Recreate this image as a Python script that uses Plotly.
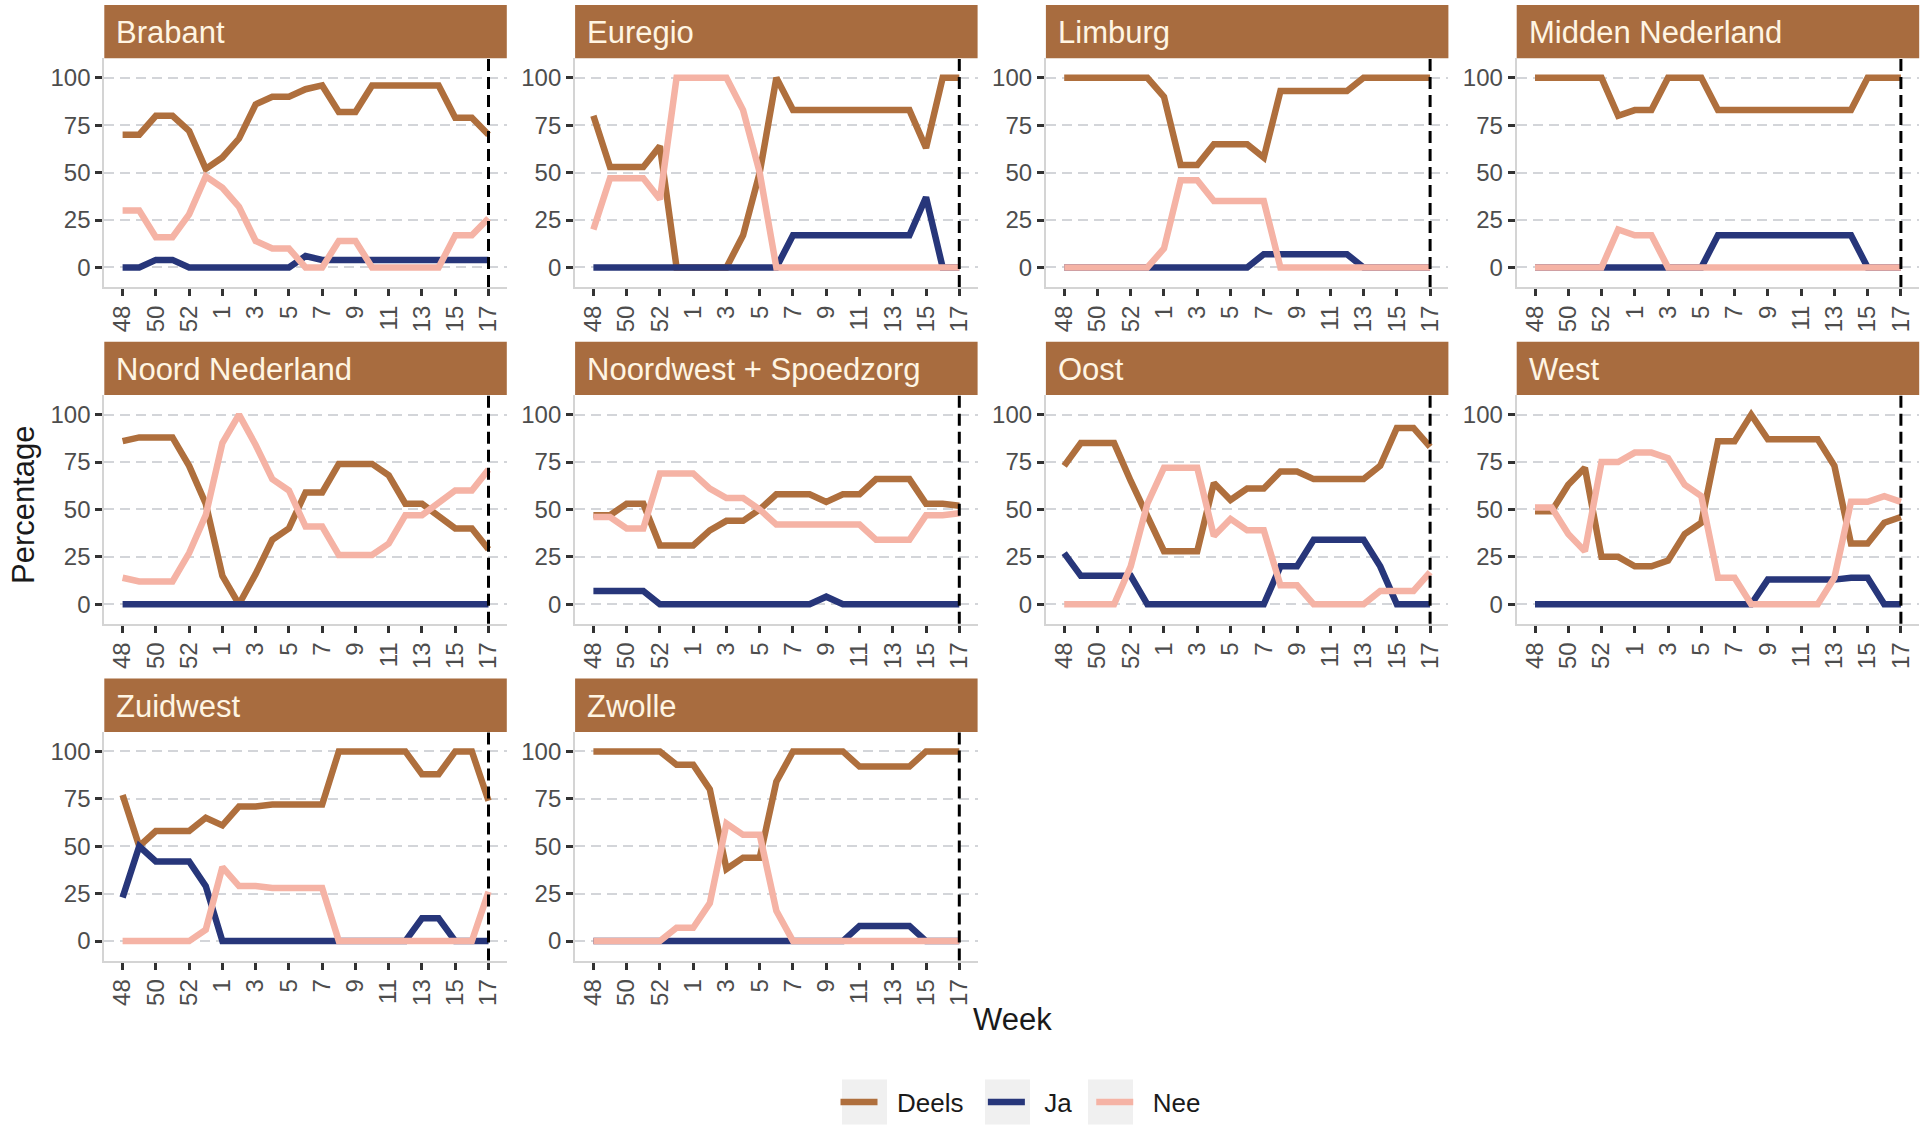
import plotly.graph_objects as go

# Week axis: weeks 48-53 of 2020 followed by weeks 1-17 of 2021
weeks = ["48", "49", "50", "51", "52", "53"] + [str(w) for w in range(1, 18)]
week_ticks = weeks[::2]
marker_week = "17"

regions = [
    "Brabant", "Euregio", "Limburg", "Midden Nederland",
    "Noord Nederland", "Noordwest + Spoedzorg", "Oost", "West",
    "Zuidwest", "Zwolle",
]
series_names = ["Deels", "Ja", "Nee"]
series_colors = ["#AF6F3D", "#27367A", "#F5B3A5"]

brabant_deels = [70, 70, 80, 80, 72, 52, 58, 68, 86, 90, 90, 94, 96, 82, 82, 96, 96, 96, 96, 96, 79, 79, 70]
brabant_ja = [0, 0, 4, 4, 0, 0, 0, 0, 0, 0, 0, 6, 4, 4, 4, 4, 4, 4, 4, 4, 4, 4, 4]
brabant_nee = [30, 30, 16, 16, 28, 48, 42, 32, 14, 10, 10, 0, 0, 14, 14, 0, 0, 0, 0, 0, 17, 17, 26]

euregio_deels = [80, 53, 53, 53, 64, 0, 0, 0, 0, 17, 50, 100, 83, 83, 83, 83, 83, 83, 83, 83, 63, 100, 100]
euregio_ja = [0, 0, 0, 0, 0, 0, 0, 0, 0, 0, 0, 0, 17, 17, 17, 17, 17, 17, 17, 17, 37, 0, 0]
euregio_nee = [20, 47, 47, 47, 36, 100, 100, 100, 100, 83, 50, 0, 0, 0, 0, 0, 0, 0, 0, 0, 0, 0, 0]

limburg_deels = [100, 100, 100, 100, 100, 100, 90, 54, 54, 65, 65, 65, 58, 93, 93, 93, 93, 93, 100, 100, 100, 100, 100]
limburg_ja = [0, 0, 0, 0, 0, 0, 0, 0, 0, 0, 0, 0, 7, 7, 7, 7, 7, 7, 0, 0, 0, 0, 0]
limburg_nee = [0, 0, 0, 0, 0, 0, 10, 46, 46, 35, 35, 35, 35, 0, 0, 0, 0, 0, 0, 0, 0, 0, 0]

midden_deels = [100, 100, 100, 100, 100, 80, 83, 83, 100, 100, 100, 83, 83, 83, 83, 83, 83, 83, 83, 83, 100, 100, 100]
midden_ja = [0, 0, 0, 0, 0, 0, 0, 0, 0, 0, 0, 17, 17, 17, 17, 17, 17, 17, 17, 17, 0, 0, 0]
midden_nee = [0, 0, 0, 0, 0, 20, 17, 17, 0, 0, 0, 0, 0, 0, 0, 0, 0, 0, 0, 0, 0, 0, 0]

noord_deels = [86, 88, 88, 88, 73, 53, 15, 0, 16, 34, 40, 59, 59, 74, 74, 74, 68, 53, 53, 46, 40, 40, 29]
noord_ja = [0, 0, 0, 0, 0, 0, 0, 0, 0, 0, 0, 0, 0, 0, 0, 0, 0, 0, 0, 0, 0, 0, 0]
noord_nee = [14, 12, 12, 12, 27, 47, 85, 100, 84, 66, 60, 41, 41, 26, 26, 26, 32, 47, 47, 54, 60, 60, 71]

noordwest_deels = [47, 47, 53, 53, 31, 31, 31, 39, 44, 44, 50, 58, 58, 58, 54, 58, 58, 66, 66, 66, 53, 53, 52]
noordwest_ja = [7, 7, 7, 7, 0, 0, 0, 0, 0, 0, 0, 0, 0, 0, 4, 0, 0, 0, 0, 0, 0, 0, 0]
noordwest_nee = [46, 46, 40, 40, 69, 69, 69, 61, 56, 56, 50, 42, 42, 42, 42, 42, 42, 34, 34, 34, 47, 47, 48]

oost_deels = [73, 85, 85, 85, 65, 47, 28, 28, 28, 64, 55, 61, 61, 70, 70, 66, 66, 66, 66, 73, 93, 93, 83]
oost_ja = [27, 15, 15, 15, 15, 0, 0, 0, 0, 0, 0, 0, 0, 20, 20, 34, 34, 34, 34, 20, 0, 0, 0]
oost_nee = [0, 0, 0, 0, 20, 53, 72, 72, 72, 36, 45, 39, 39, 10, 10, 0, 0, 0, 0, 7, 7, 7, 17]

west_deels = [49, 49, 63, 72, 25, 25, 20, 20, 23, 37, 43, 86, 86, 100, 87, 87, 87, 87, 73, 32, 32, 43, 46]
west_ja = [0, 0, 0, 0, 0, 0, 0, 0, 0, 0, 0, 0, 0, 0, 13, 13, 13, 13, 13, 14, 14, 0, 0]
west_nee = [51, 51, 37, 28, 75, 75, 80, 80, 77, 63, 57, 14, 14, 0, 0, 0, 0, 0, 14, 54, 54, 57, 54]

zuidwest_deels = [77, 50, 58, 58, 58, 65, 61, 71, 71, 72, 72, 72, 72, 100, 100, 100, 100, 100, 88, 88, 100, 100, 74]
zuidwest_ja = [23, 50, 42, 42, 42, 29, 0, 0, 0, 0, 0, 0, 0, 0, 0, 0, 0, 0, 12, 12, 0, 0, 0]
zuidwest_nee = [0, 0, 0, 0, 0, 6, 39, 29, 29, 28, 28, 28, 28, 0, 0, 0, 0, 0, 0, 0, 0, 0, 26]

zwolle_deels = [100, 100, 100, 100, 100, 93, 93, 80, 38, 44, 44, 84, 100, 100, 100, 100, 92, 92, 92, 92, 100, 100, 100]
zwolle_ja = [0, 0, 0, 0, 0, 0, 0, 0, 0, 0, 0, 0, 0, 0, 0, 0, 8, 8, 8, 8, 0, 0, 0]
zwolle_nee = [0, 0, 0, 0, 0, 7, 7, 20, 62, 56, 56, 16, 0, 0, 0, 0, 0, 0, 0, 0, 0, 0, 0]

panel_series = [
    (brabant_deels, brabant_ja, brabant_nee),
    (euregio_deels, euregio_ja, euregio_nee),
    (limburg_deels, limburg_ja, limburg_nee),
    (midden_deels, midden_ja, midden_nee),
    (noord_deels, noord_ja, noord_nee),
    (noordwest_deels, noordwest_ja, noordwest_nee),
    (oost_deels, oost_ja, oost_nee),
    (west_deels, west_ja, west_nee),
    (zuidwest_deels, zuidwest_ja, zuidwest_nee),
    (zwolle_deels, zwolle_ja, zwolle_nee),
]

# Page geometry (pixels)
W, H = 1927, 1126
N_COLS = 4
col_left = [104.3, 575.1, 1045.9, 1516.7]
panel_w = 402.5
row_top = [5.0, 341.8, 678.6]
strip_h = 53.3
plot_h = 228.7

STRIP_FILL = "#A86C3F"
STRIP_TEXT = "#FFF5E3"
TICK_TEXT = "#4D4D4D"
GRID = "#D3D5D9"
AXIS_LINE = "#D4D4D4"
KEY_FILL = "#F0F0F0"
FONT = "Liberation Sans, Arial, sans-serif"
NBSP = "\u00a0"

fig = go.Figure()
shapes = []
annotations = []
layout_axes = {}

for k, (region, series) in enumerate(zip(regions, panel_series)):
    r, c = divmod(k, N_COLS)
    n = k + 1
    xname = "x" if n == 1 else f"x{n}"
    yname = "y" if n == 1 else f"y{n}"
    left = col_left[c]
    top = row_top[r]
    plot_top = top + strip_h
    plot_bottom = plot_top + plot_h

    for name, color, values in zip(series_names, series_colors, series):
        fig.add_trace(go.Scatter(
            x=weeks, y=values, mode="lines",
            name=NBSP * 2 + name + NBSP * 2,
            line=dict(color=color, width=6.5),
            legendgroup=name, showlegend=(k == 0),
            xaxis=xname, yaxis=yname, hoverinfo="skip",
        ))

    layout_axes["xaxis" if n == 1 else f"xaxis{n}"] = dict(
        domain=[left / W, (left + panel_w) / W],
        anchor=yname, type="category", categoryorder="array",
        categoryarray=weeks, range=[-1.1, len(weeks) - 1 + 1.1],
        tickmode="array", tickvals=week_ticks, ticktext=week_ticks,
        tickangle=-90, ticks="outside", ticklen=7, tickwidth=2.5,
        tickcolor="#333333", tickfont=dict(size=24, color=TICK_TEXT, family=FONT),
        showgrid=False, zeroline=False, showline=True,
        linecolor=AXIS_LINE, linewidth=2, fixedrange=True,
    )
    layout_axes["yaxis" if n == 1 else f"yaxis{n}"] = dict(
        domain=[1 - plot_bottom / H, 1 - plot_top / H],
        anchor=xname, range=[-10.3, 110.3],
        tickmode="array", tickvals=[0, 25, 50, 75, 100],
        ticks="outside", ticklen=7, tickwidth=2.5, tickcolor="#333333",
        tickfont=dict(size=24, color=TICK_TEXT, family=FONT),
        showgrid=True, gridcolor=GRID, gridwidth=1.5, griddash="10px,6px",
        zeroline=False, showline=True, linecolor=AXIS_LINE, linewidth=2,
        fixedrange=True,
    )

    # facet strip
    shapes.append(dict(
        type="rect", xref="paper", yref="paper",
        x0=left / W, x1=(left + panel_w) / W,
        y0=1 - plot_top / H, y1=1 - top / H,
        fillcolor=STRIP_FILL, line=dict(width=0), layer="below",
    ))
    annotations.append(dict(
        text=region, xref="paper", yref="paper",
        x=(left + 10) / W, y=1 - (top + strip_h / 2 + 1) / H,
        xanchor="left", yanchor="middle", showarrow=False,
        font=dict(size=31, color=STRIP_TEXT, family=FONT),
    ))

    # dashed reference line at the latest week
    shapes.append(dict(
        type="line", xref=xname, yref=f"{yname} domain",
        x0=weeks.index(marker_week), x1=weeks.index(marker_week), y0=0, y1=1,
        line=dict(color="black", width=3, dash="12px,6px"),
    ))

annotations.append(dict(
    text="Week", xref="paper", yref="paper", x=1012 / W, y=1 - 1019 / H,
    xanchor="center", yanchor="middle", showarrow=False,
    font=dict(size=31, color="#1A1A1A", family=FONT),
))
annotations.append(dict(
    text="Percentage", xref="paper", yref="paper", x=24 / W, y=1 - 505 / H,
    xanchor="center", yanchor="middle", showarrow=False, textangle=-90,
    font=dict(size=31, color="#1A1A1A", family=FONT),
))

# grey key backgrounds behind the legend symbols
key_left = [842, 985, 1088]
key_size = 45
legend_mid = 1102
for kl in key_left:
    shapes.append(dict(
        type="rect", xref="paper", yref="paper",
        x0=kl / W, x1=(kl + key_size) / W,
        y0=1 - (legend_mid + key_size / 2) / H, y1=1 - (legend_mid - key_size / 2) / H,
        fillcolor=KEY_FILL, line=dict(width=0), layer="below",
    ))

fig.update_layout(
    width=W, height=H,
    margin=dict(l=0, r=0, t=0, b=0),
    paper_bgcolor="white", plot_bgcolor="white",
    font=dict(family=FONT),
    shapes=shapes, annotations=annotations,
    showlegend=True,
    legend=dict(
        orientation="h", x=1028 / W, xanchor="center",
        y=1 - legend_mid / H, yanchor="middle",
        font=dict(size=26, color="#1A1A1A", family=FONT),
        bgcolor="rgba(0,0,0,0)", itemwidth=37,
    ),
    **layout_axes,
)

fig.write_html("out.html")
